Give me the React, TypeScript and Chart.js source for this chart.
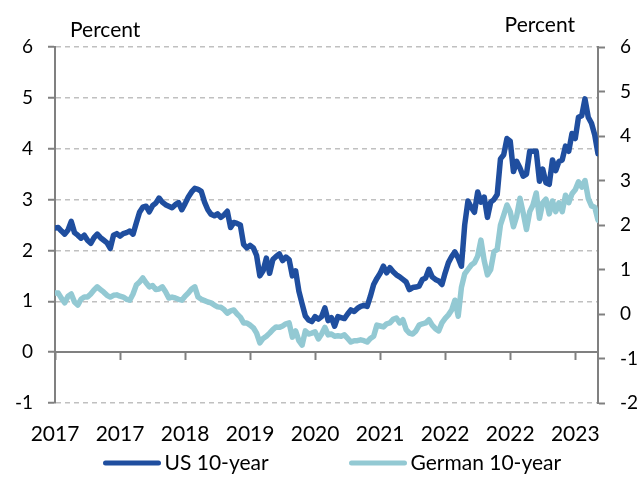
import React, { useEffect, useRef } from 'react';
import { Chart, registerables } from 'chart.js';

Chart.register(...registerables);

// Semi-monthly observations, Jan 2017 – Dec 2023
const usValues = [
  2.44, 2.45, 2.38, 2.32, 2.40, 2.57, 2.35, 2.30, 2.24, 2.30,
  2.20, 2.14, 2.25, 2.32, 2.25, 2.20, 2.15, 2.04, 2.30, 2.33,
  2.28, 2.33, 2.35, 2.38, 2.32, 2.54, 2.75, 2.85, 2.87, 2.76,
  2.88, 2.93, 3.03, 2.95, 2.90, 2.87, 2.84, 2.90, 2.94, 2.80,
  2.92, 3.05, 3.15, 3.22, 3.20, 3.16, 2.95, 2.80, 2.71, 2.68,
  2.72, 2.65, 2.70, 2.77, 2.45, 2.55, 2.53, 2.50, 2.12, 2.05,
  2.10, 2.05, 1.90, 1.50, 1.60, 1.85, 1.55, 1.82, 1.88, 1.93,
  1.80, 1.87, 1.82, 1.50, 1.60, 1.20, 0.95, 0.71, 0.63, 0.60,
  0.70, 0.65, 0.70, 0.87, 0.62, 0.68, 0.51, 0.70, 0.68, 0.66,
  0.75, 0.83, 0.80, 0.86, 0.90, 0.92, 0.90, 1.10, 1.33, 1.45,
  1.55, 1.69, 1.56, 1.66, 1.58, 1.52, 1.48, 1.43, 1.38, 1.23,
  1.27, 1.28, 1.30, 1.43, 1.46, 1.63, 1.48, 1.43, 1.40, 1.33,
  1.56, 1.76, 1.88, 1.97, 1.85, 1.69, 2.50, 2.97, 2.85, 2.75,
  3.15, 2.95, 3.05, 2.65, 2.95, 3.00, 3.10, 3.80, 3.88, 4.20,
  4.15, 3.55, 3.75, 3.62, 3.46, 3.50, 3.95, 3.95, 3.95, 3.36,
  3.60, 3.33, 3.30, 3.78, 3.57, 3.75, 3.78, 4.05, 3.95, 4.30,
  4.20, 4.62, 4.65, 4.98, 4.62, 4.50, 4.27, 3.90,
];

const germanValues = [
  0.47, 0.47, 0.35, 0.25, 0.40, 0.45, 0.27, 0.20, 0.33, 0.38,
  0.38, 0.45, 0.54, 0.61, 0.55, 0.49, 0.42, 0.38, 0.42, 0.43,
  0.40, 0.38, 0.33, 0.31, 0.45, 0.65, 0.72, 0.81, 0.70, 0.61,
  0.64, 0.55, 0.56, 0.61, 0.50, 0.36, 0.38, 0.36, 0.33, 0.31,
  0.40, 0.47, 0.56, 0.61, 0.38, 0.33, 0.30, 0.27, 0.25, 0.20,
  0.16, 0.15, 0.10, 0.02, 0.07, 0.09, 0.00, -0.07, -0.20, -0.20,
  -0.25, -0.31, -0.43, -0.65, -0.55, -0.50, -0.43, -0.35, -0.29, -0.30,
  -0.27, -0.22, -0.20, -0.52, -0.38, -0.60, -0.70, -0.38, -0.45, -0.43,
  -0.40, -0.56, -0.45, -0.30, -0.47, -0.45, -0.50, -0.49, -0.50, -0.47,
  -0.55, -0.63, -0.60, -0.60, -0.58, -0.60, -0.63, -0.55, -0.50, -0.25,
  -0.27, -0.29, -0.22, -0.20, -0.12, -0.09, -0.20, -0.13, -0.35, -0.43,
  -0.45, -0.38, -0.25, -0.22, -0.20, -0.13, -0.25, -0.33, -0.38, -0.20,
  -0.10, -0.02, 0.09, 0.31, -0.05, 0.60, 0.90, 1.00, 1.10, 1.15,
  1.30, 1.66, 1.20, 0.88, 1.00, 1.40, 1.45, 2.00, 2.22, 2.45,
  2.30, 1.96, 2.20, 2.60, 2.27, 1.90, 2.30, 2.45, 2.72, 2.15,
  2.50, 2.58, 2.25, 2.54, 2.30, 2.50, 2.30, 2.67, 2.50, 2.70,
  2.79, 2.97, 2.85, 3.00, 2.60, 2.43, 2.40, 2.11,
];

const xTickLabels = ['2017', '2017', '2018', '2019', '2020', '2021', '2022', '2022', '2023'];
const xTickStep = 20; // observations between labelled ticks

const seriesLabels = ['US 10-year', 'German 10-year'];
const axisTitle = 'Percent';

const FONT = 'Lato';
const US_COLOR = '#1f4e9f';
const DE_COLOR = '#93c9d3';
const AXIS_COLOR = '#808080';
const GRID_COLOR = '#c0c0c0';
const TEXT_COLOR = '#000000';
const LINE_WIDTH = 5.5;

const overlayPlugin = {
  id: 'overlay',
  afterDraw(chart: any) {
    const { ctx, chartArea } = chart;
    ctx.save();
    ctx.fillStyle = TEXT_COLOR;
    ctx.font = `21px ${FONT}`;
    ctx.textBaseline = 'middle';
    ctx.textAlign = 'left';
    ctx.fillText(axisTitle, chartArea.left + 15, chartArea.top - 17);
    ctx.textAlign = 'right';
    ctx.fillText(axisTitle, chartArea.right - 23, chartArea.top - 22);

    // legend
    const cx = (chartArea.left + chartArea.right) / 2;
    const ly = chartArea.bottom + 60;
    const starts = [cx - 223, cx + 23];
    chart.data.datasets.forEach((ds: any, k: number) => {
      const x0 = starts[k];
      ctx.strokeStyle = ds.borderColor;
      ctx.lineWidth = 5;
      ctx.lineCap = 'round';
      ctx.beginPath();
      ctx.moveTo(x0 + 2, ly);
      ctx.lineTo(x0 + 55, ly);
      ctx.stroke();
      ctx.textAlign = 'left';
      ctx.fillText(ds.label, x0 + 61, ly);
    });
    ctx.restore();
  },
};

export default function App() {
  const canvasRef = useRef<HTMLCanvasElement | null>(null);

  useEffect(() => {
    const canvas = canvasRef.current;
    if (!canvas) return;
    const lastIndex = usValues.length - 1;
    const tickFont = { family: FONT, size: 19 };

    const chart = new Chart(canvas, {
      type: 'line',
      data: {
        datasets: [
          {
            label: seriesLabels[0],
            data: usValues.map((v, i) => ({ x: i, y: v })),
            borderColor: US_COLOR,
            backgroundColor: US_COLOR,
            borderWidth: LINE_WIDTH,
            pointRadius: 0,
            borderJoinStyle: 'round',
            borderCapStyle: 'round',
            tension: 0,
            yAxisID: 'y',
          },
          {
            label: seriesLabels[1],
            data: germanValues.map((v, i) => ({ x: i, y: v })),
            borderColor: DE_COLOR,
            backgroundColor: DE_COLOR,
            borderWidth: LINE_WIDTH,
            pointRadius: 0,
            borderJoinStyle: 'round',
            borderCapStyle: 'round',
            tension: 0,
            yAxisID: 'y1',
          },
        ],
      },
      options: {
        animation: false,
        responsive: false,
        layout: { padding: { top: 47, left: 0, right: 0, bottom: 14 } },
        plugins: { legend: { display: false }, tooltip: { enabled: false } },
        scales: {
          x: {
            type: 'linear',
            position: 'bottom',
            min: 0,
            max: lastIndex,
            grid: { display: false, drawTicks: false },
            border: { display: false },
            ticks: {
              stepSize: xTickStep,
              includeBounds: false,
              autoSkip: false,
              maxRotation: 0,
              padding: 19,
              color: TEXT_COLOR,
              font: { family: FONT, size: 21 },
              callback: (v: any) => xTickLabels[Math.round(Number(v) / xTickStep)] ?? '',
            },
            afterFit: (s: any) => {
              s.height = 60;
            },
          },
          x2: {
            type: 'linear',
            position: { y: 0 },
            min: 0,
            max: lastIndex,
            grid: {
              drawOnChartArea: false,
              drawTicks: true,
              tickLength: 7,
              tickColor: AXIS_COLOR,
              tickWidth: 2,
            },
            border: { display: true, color: AXIS_COLOR, width: 2 },
            ticks: { display: false, stepSize: xTickStep, includeBounds: false, autoSkip: false },
          },
          y: {
            position: 'left',
            min: -1,
            max: 6,
            ticks: { stepSize: 1, padding: 15, color: TEXT_COLOR, font: tickFont },
            grid: {
              color: (c: any) => (c.tick && c.tick.value === 0 ? 'rgba(0,0,0,0)' : GRID_COLOR),
              lineWidth: 1.5,
              tickLength: 7,
              tickColor: AXIS_COLOR,
              tickWidth: 2,
            },
            border: { display: true, color: AXIS_COLOR, width: 2, dash: [5, 4] },
            afterFit: (s: any) => {
              s.width = 55;
            },
          },
          y1: {
            position: 'right',
            min: -2,
            max: 6,
            ticks: { stepSize: 1, padding: 15, color: TEXT_COLOR, font: tickFont },
            grid: {
              drawOnChartArea: false,
              tickLength: 7,
              tickColor: AXIS_COLOR,
              tickWidth: 2,
            },
            border: { display: true, color: AXIS_COLOR, width: 2 },
            afterFit: (s: any) => {
              s.width = 45;
            },
          },
        },
      } as any,
      plugins: [overlayPlugin],
    });

    return () => chart.destroy();
  }, []);

  return (
    <canvas
      ref={canvasRef}
      width={643}
      height={477}
      style={{ position: 'absolute', left: 0, top: 0, width: 643, height: 477, display: 'block' }}
    />
  );
}
